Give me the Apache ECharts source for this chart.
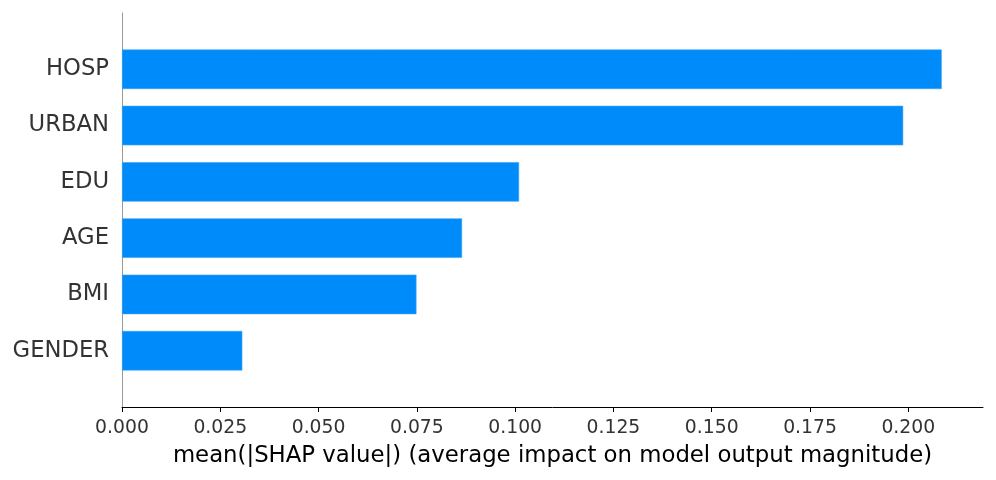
<!DOCTYPE html>
<html>
<head>
<meta charset="utf-8">
<script src="https://cdn.jsdelivr.net/npm/echarts@6/dist/echarts.min.js"></script>
<style>
html,body{margin:0;padding:0;background:#fff;}
#chart{width:996px;height:480px;}
</style>
</head>
<body>
<div id="chart"></div>
<script>
// Features, bottom to top (padded with blanks at both ends as in the plot's y-limits)
const features = ['', 'GENDER', 'BMI', 'AGE', 'EDU', 'URBAN', 'HOSP', ''];
const meanAbsShap = [null, 0.0306, 0.0749, 0.0865, 0.1010, 0.1987, 0.2085, null];
const xTicks = [0, 0.025, 0.05, 0.075, 0.1, 0.125, 0.15, 0.175, 0.2];
const xTitle = 'mean(|SHAP value|) (average impact on model output magnitude)';

const chart = echarts.init(document.getElementById('chart'), null, {renderer: 'canvas'});
const font = 'DejaVu Sans';
chart.setOption({
  animation: false,
  backgroundColor: '#ffffff',
  grid: {left: 122, right: 13, top: 13, bottom: 73, containLabel: false},
  xAxis: {
    type: 'value',
    min: 0,
    max: 0.219,
    interval: 0.025,
    splitLine: {show: false},
    axisLine: {show: true, onZero: false, lineStyle: {color: '#000000', width: 1}},
    axisTick: {show: true, length: 5, customValues: xTicks, lineStyle: {color: '#000000', width: 1}},
    axisLabel: {
      customValues: xTicks,
      margin: 12,
      color: '#333333',
      fontFamily: font,
      fontSize: 18.8,
      formatter: v => v.toFixed(3)
    },
    name: xTitle,
    nameLocation: 'middle',
    nameGap: 38,
    nameTextStyle: {color: '#000000', fontFamily: font, fontSize: 22.8}
  },
  yAxis: {
    type: 'category',
    data: features,
    boundaryGap: false,
    axisLine: {show: true, lineStyle: {color: '#999999', width: 1}},
    axisTick: {show: false},
    splitLine: {show: false},
    axisLabel: {
      margin: 13,
      color: '#333333',
      fontFamily: font,
      fontSize: 22.7,
      padding: [3, 0, 0, 0],
      interval: 0
    }
  },
  series: [{
    type: 'bar',
    data: meanAbsShap,
    barWidth: 39.5,
    itemStyle: {color: '#008bfb', borderColor: '#3aa3f5', borderWidth: 0.6},
    emphasis: {disabled: true}
  }]
});
</script>
</body>
</html>
